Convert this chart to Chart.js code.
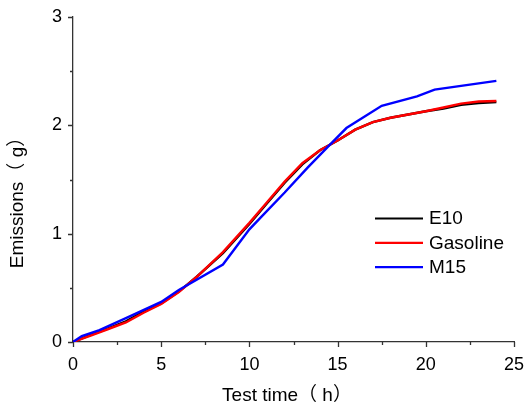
<!DOCTYPE html>
<html>
<head>
<meta charset="utf-8">
<script src="https://cdn.jsdelivr.net/npm/chart.js@4/dist/chart.umd.min.js"></script>
<style>
  html, body { margin: 0; padding: 0; background: #fff; }
  #wrap { width: 526px; height: 406px; }
</style>
</head>
<body>
<div id="wrap"><canvas id="c" width="526" height="406"></canvas></div>
<script>
// Cumulative evaporative emissions over the test (hours -> grams)
const seriesNames = ['E10', 'Gasoline', 'M15'];
const seriesColors = ['#000000', '#ff0000', '#0000ff'];

const e10Time = [0, 1, 2, 3, 4, 5, 6, 7, 8.5, 10, 11, 12, 13, 14, 15, 16, 17, 18, 19, 20, 21, 22, 23, 24];
const e10Emis = [0, 0.065, 0.125, 0.19, 0.28, 0.355, 0.465, 0.6, 0.82, 1.09, 1.28, 1.47, 1.64, 1.77, 1.86, 1.96, 2.03, 2.07, 2.1, 2.13, 2.155, 2.19, 2.205, 2.215];

const gasTime = [0, 1, 2, 3, 4, 5, 6, 7, 8.5, 10, 11, 12, 13, 14, 15, 16, 17, 18, 19, 20, 21, 22, 23, 24];
const gasEmis = [0, 0.06, 0.12, 0.18, 0.27, 0.35, 0.46, 0.6, 0.83, 1.1, 1.29, 1.48, 1.65, 1.77, 1.86, 1.96, 2.03, 2.07, 2.1, 2.13, 2.165, 2.2, 2.22, 2.225];

const m15Time = [0, 0.5, 1.5, 3, 5, 6, 8.5, 10, 10.7, 12, 13.3, 14.5, 15.5, 17.5, 19.5, 20.5, 24];
const m15Emis = [0, 0.055, 0.11, 0.22, 0.37, 0.48, 0.715, 1.04, 1.16, 1.38, 1.61, 1.81, 1.975, 2.18, 2.268, 2.33, 2.41];

const xTicks = [0, 5, 10, 15, 20, 25];
const yTicks = [0, 1, 2, 3];

const xTitle = 'Test time（ h）';
const yTitle = 'Emissions（ g）';

const AXIS_COLOR = '#333333';
const FONT = '"Liberation Sans", Arial, "Noto Sans CJK SC", sans-serif';

function toPoints(xs, ys) {
  return xs.map((x, i) => ({ x: x, y: ys[i] }));
}

// Major and minor outward tick marks, axis titles and the in-plot legend
const decorations = {
  id: 'decorations',
  afterDraw(chart) {
    const ctx = chart.ctx;
    const xs = chart.scales.x, ys = chart.scales.y;
    const area = chart.chartArea;
    ctx.save();
    ctx.strokeStyle = AXIS_COLOR;
    ctx.lineWidth = 1.3;
    ctx.beginPath();
    const xStep = xTicks[1] - xTicks[0];
    for (let v = xs.min; v <= xs.max + 1e-9; v += xStep / 2) {
      const px = Math.round(xs.getPixelForValue(v)) + 0.5;
      const major = Math.abs(v / xStep - Math.round(v / xStep)) < 1e-6;
      ctx.moveTo(px, area.bottom);
      ctx.lineTo(px, area.bottom + (major ? 5 : 3));
    }
    const yStep = yTicks[1] - yTicks[0];
    for (let v = ys.min; v <= ys.max + 1e-9; v += yStep / 2) {
      const py = Math.round(ys.getPixelForValue(v)) + 0.5;
      const major = Math.abs(v / yStep - Math.round(v / yStep)) < 1e-6;
      ctx.moveTo(area.left, py);
      ctx.lineTo(area.left - (major ? 5 : 3), py);
    }
    ctx.stroke();

    // axis titles
    ctx.fillStyle = '#000';
    ctx.font = '19px ' + FONT;
    ctx.textAlign = 'center';
    ctx.textBaseline = 'middle';
    ctx.fillText(xTitle, 287, 396);
    ctx.save();
    ctx.translate(18, 198);
    ctx.rotate(-Math.PI / 2);
    ctx.fillText(yTitle, 0, 0);
    ctx.restore();

    // legend
    ctx.font = '19px ' + FONT;
    ctx.textAlign = 'left';
    chart.data.datasets.forEach((ds, i) => {
      const y = 218.5 + i * 24.3;
      ctx.strokeStyle = ds.borderColor;
      ctx.lineWidth = 2.2;
      ctx.beginPath();
      ctx.moveTo(375, y);
      ctx.lineTo(423, y);
      ctx.stroke();
      ctx.fillStyle = '#000';
      ctx.fillText(ds.label, 429, y + 0.5);
    });
    ctx.restore();
  }
};

const seriesData = [
  toPoints(e10Time, e10Emis),
  toPoints(gasTime, gasEmis),
  toPoints(m15Time, m15Emis)
];

new Chart(document.getElementById('c'), {
  type: 'line',
  data: {
    datasets: seriesNames.map((name, i) => ({
      label: name,
      data: seriesData[i],
      borderColor: seriesColors[i],
      backgroundColor: seriesColors[i],
      borderWidth: 2.4,
      pointRadius: 0,
      tension: 0,
      fill: false,
      order: 2 - i
    }))
  },
  options: {
    responsive: false,
    animation: false,
    devicePixelRatio: 1,
    layout: { padding: { left: 0, top: 17, right: 12, bottom: 0 } },
    plugins: {
      legend: { display: false },
      tooltip: { enabled: false },
      title: { display: false }
    },
    scales: {
      x: {
        type: 'linear',
        min: 0,
        max: 25,
        grid: { display: false, drawTicks: false },
        border: { display: true, color: AXIS_COLOR, width: 1.3 },
        ticks: {
          stepSize: 5,
          color: '#000',
          padding: 12,
          maxRotation: 0,
          font: { family: FONT, size: 18 }
        },
        afterFit(scale) {
          scale.height = 64;
          scale.paddingLeft = 0;
          scale.paddingRight = 0;
        }
      },
      y: {
        type: 'linear',
        min: 0,
        max: 3,
        grid: { display: false, drawTicks: false },
        border: { display: true, color: AXIS_COLOR, width: 1.3 },
        ticks: {
          stepSize: 1,
          color: '#000',
          padding: 11,
          font: { family: FONT, size: 18 }
        },
        afterFit(scale) {
          scale.width = 73;
          scale.paddingTop = 0;
          scale.paddingBottom = 0;
        }
      }
    }
  },
  plugins: [decorations]
});
</script>
</body>
</html>
